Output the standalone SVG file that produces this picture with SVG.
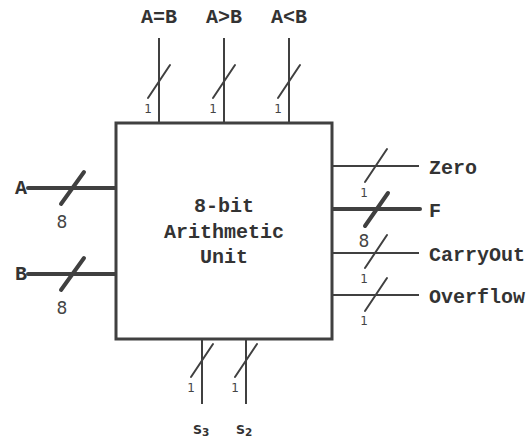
<svg xmlns="http://www.w3.org/2000/svg" width="531" height="438" viewBox="0 0 531 438">
<style>
.w{stroke:#404040;stroke-width:2;fill:none;stroke-linecap:butt}
.bus{stroke:#404040;stroke-width:4;fill:none;stroke-linecap:round}
.s1{stroke:#404040;stroke-width:2;fill:none;stroke-linecap:round}
.s8{stroke:#404040;stroke-width:4;fill:none;stroke-linecap:round}
.lbl{font-family:"Liberation Mono","Courier New",monospace;font-weight:bold;font-size:20px;fill:#333}
.n1{font-family:"DejaVu Sans",Verdana,sans-serif;font-size:12px;fill:#444;text-anchor:middle}
.n8{font-family:"DejaVu Sans",Verdana,sans-serif;font-size:17px;fill:#444;text-anchor:middle}
.sl{font-family:"DejaVu Sans",Verdana,sans-serif;font-weight:bold;font-size:12.5px;fill:#333}
</style>
<rect width="531" height="438" fill="#fff"/>
<g id="connectors">
  <line class="w" x1="159" y1="38" x2="159" y2="123"/>
  <line class="s1" x1="148" y1="98" x2="170" y2="65"/>
  <line class="w" x1="224" y1="38" x2="224" y2="123"/>
  <line class="s1" x1="213" y1="98" x2="235" y2="65"/>
  <line class="w" x1="289" y1="38" x2="289" y2="123"/>
  <line class="s1" x1="278" y1="98" x2="300" y2="65"/>
  <line class="bus" x1="28" y1="188" x2="116" y2="188"/>
  <line class="s8" x1="61" y1="204" x2="84" y2="172"/>
  <line class="bus" x1="28" y1="274" x2="116" y2="274"/>
  <line class="s8" x1="61" y1="290" x2="84" y2="258"/>
  <line class="w" x1="332" y1="166" x2="419" y2="166"/>
  <line class="s1" x1="365" y1="182" x2="387" y2="149"/>
  <line class="bus" x1="332" y1="209" x2="420" y2="209"/>
  <line class="s8" x1="365" y1="226" x2="388" y2="193"/>
  <line class="w" x1="332" y1="253" x2="419" y2="253"/>
  <line class="s1" x1="365" y1="268" x2="387" y2="235"/>
  <line class="w" x1="332" y1="295" x2="419" y2="295"/>
  <line class="s1" x1="365" y1="311" x2="387" y2="278"/>
  <line class="w" x1="202" y1="339" x2="202" y2="404"/>
  <line class="s1" x1="191" y1="377" x2="213" y2="344"/>
  <line class="w" x1="246" y1="339" x2="246" y2="404"/>
  <line class="s1" x1="235" y1="377" x2="257" y2="344"/>
</g>
<g id="alu">
  <rect x="116" y="123" width="216" height="216" fill="#fff" stroke="#404040" stroke-width="3"/>
  <text class="lbl" text-anchor="middle" x="224" y="212">8-bit</text>
  <text class="lbl" text-anchor="middle" x="224" y="238">Arithmetic</text>
  <text class="lbl" text-anchor="middle" x="224" y="263">Unit</text>
</g>
<g id="out-eq">
  <text class="lbl" text-anchor="middle" x="159" y="23">A=B</text>
  <text class="n1" x="148" y="113">1</text>
</g>
<g id="out-gt">
  <text class="lbl" text-anchor="middle" x="224" y="23">A&gt;B</text>
  <text class="n1" x="213" y="113">1</text>
</g>
<g id="out-lt">
  <text class="lbl" text-anchor="middle" x="289" y="23">A&lt;B</text>
  <text class="n1" x="278" y="113">1</text>
</g>
<g id="in-a">
  <text class="lbl" text-anchor="end" x="27" y="194">A</text>
  <text class="n8" x="62" y="228">8</text>
</g>
<g id="in-b">
  <text class="lbl" text-anchor="end" x="27" y="280">B</text>
  <text class="n8" x="62" y="314">8</text>
</g>
<g id="out-zero">
  <text class="lbl" x="429" y="174">Zero</text>
  <text class="n1" x="364" y="197">1</text>
</g>
<g id="out-f">
  <text class="lbl" x="429" y="217">F</text>
  <text class="n8" x="364" y="247">8</text>
</g>
<g id="out-carry">
  <text class="lbl" x="429" y="261">CarryOut</text>
  <text class="n1" x="364" y="283">1</text>
</g>
<g id="out-ovf">
  <text class="lbl" x="429" y="303">Overflow</text>
  <text class="n1" x="364" y="325">1</text>
</g>
<g id="in-s3">
  <text class="n1" x="191" y="392">1</text>
  <text class="sl" x="193" y="434">S<tspan font-size="10.5" dy="2">3</tspan></text>
</g>
<g id="in-s2">
  <text class="n1" x="235" y="392">1</text>
  <text class="sl" x="236" y="434">S<tspan font-size="10.5" dy="2">2</tspan></text>
</g>
</svg>
